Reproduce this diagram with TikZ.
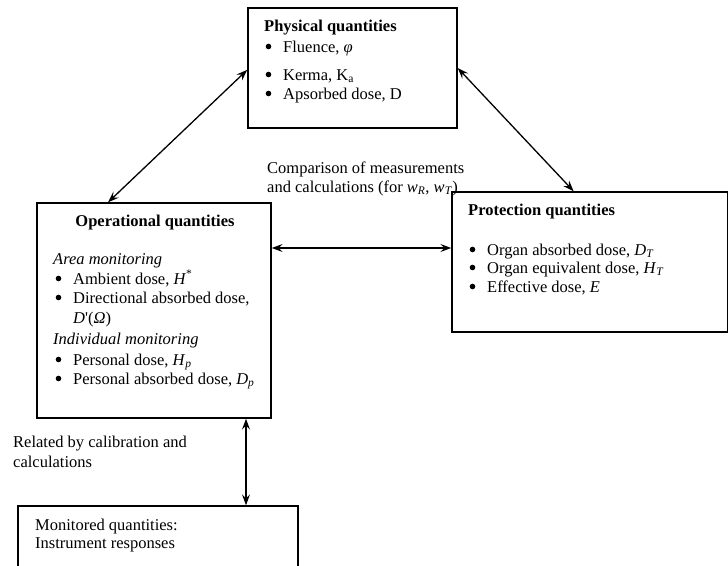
\documentclass[tikz,border=0pt]{standalone}
\usepackage{fontspec}
\setmainfont{Liberation Serif}
\usetikzlibrary{arrows.meta}
\begin{document}
\begin{tikzpicture}[x=1pt,y=-1pt,
  box/.style={draw,line width=1.4pt,rectangle,inner sep=0pt},
  txt/.style={anchor=base west,inner sep=0pt,font=\fontsize{16.5}{19}\selectfont},
  dot/.style={circle,fill,inner sep=0pt,minimum size=5.6pt},
  biarrow/.style={line width=1.3pt,{Stealth[length=11pt,width=8pt,inset=4pt]}-{Stealth[length=11pt,width=8pt,inset=4pt]}},
]
\useasboundingbox (0,0) rectangle (728,565);
\clip (0,0) rectangle (728,565);
% boxes
\node[box,minimum width=209pt,minimum height=120pt] (phys) at (352.5,68) {};
\node[box,minimum width=234pt,minimum height=215pt] (ops) at (154,310.5) {};
\node[box,minimum width=276pt,minimum height=140pt] (prot) at (590,262) {};
\node[box,minimum width=280pt,minimum height=80pt] (mon) at (158,546) {};
% physical
\node[txt,font=\fontsize{16.5}{19}\selectfont\bfseries] (pt) at (264,31) {Physical quantities};
\node[dot] (pb1) at (268.5,46.5) {};
\node[dot] (pb2) at (268.5,74.5) {};
\node[dot] (pb3) at (268.5,93.5) {};
\node[txt] (p1) at (283,52) {Fluence, \textit{φ}};
\node[txt] (p2) at (283,80) {Kerma, K\textsubscript{a}};
\node[txt] (p3) at (283,99) {Apsorbed dose, D};
% comparison
\node[txt] (c1) at (267,173) {Comparison of measurements};
\node[txt] (c2) at (267,192) {and calculations (for \textit{w}\textsubscript{\textit{R}}, \textit{w}\textsubscript{\textit{T}})};
% operational
\node[txt,anchor=base,font=\fontsize{16.5}{19}\selectfont\bfseries] (ot) at (155,226) {Operational quantities};
\node[txt] (o0) at (53,264) {\textit{Area monitoring}};
\node[dot] (ob1) at (58.5,278.5) {};
\node[dot] (ob2) at (58.5,297.5) {};
\node[dot] (ob5) at (58.5,359.5) {};
\node[dot] (ob6) at (58.5,378.5) {};
\node[txt] (o1) at (73,284) {Ambient dose, \textit{H}\textsuperscript{*}};
\node[txt] (o2) at (73,303) {Directional absorbed dose,};
\node[txt] (o3) at (73,323) {\textit{D}\textquotesingle(\textit{Ω})};
\node[txt] (o4) at (53,344) {\textit{Individual monitoring}};
\node[txt] (o5) at (73,365) {Personal dose, \textit{H}\textsubscript{\textit{p}}};
\node[txt] (o6) at (73,384) {Personal absorbed dose, \textit{D}\textsubscript{\textit{p}}};
% protection
\node[txt,font=\fontsize{16.5}{19}\selectfont\bfseries] (prt) at (468,215) {Protection quantities};
\node[dot] (rb1) at (472.5,249.5) {};
\node[dot] (rb2) at (472.5,267.5) {};
\node[dot] (rb3) at (472.5,286.5) {};
\node[txt] (r1) at (487,255) {Organ absorbed dose, \textit{D}\textsubscript{\textit{T}}};
\node[txt] (r2) at (487,273) {Organ equivalent dose, \textit{H}\textsubscript{\textit{T}}};
\node[txt] (r3) at (487,292) {Effective dose, \textit{E}};
% related
\node[txt] (l1) at (13,447) {Related by calibration and};
\node[txt] (l2) at (13,467) {calculations};
% monitored
\node[txt] (m1) at (35,530) {Monitored quantities:};
\node[txt] (m2) at (35,548) {Instrument responses};
% connectors
\coordinate (hy) at (0,248);
\coordinate (vx) at (246,0);
\draw[biarrow] (phys.181) -- (ops.113);
\draw[biarrow] (phys.east) -- (prot.103);
\draw[biarrow] (ops.east |- hy) -- (prot.west |- hy);
\draw[biarrow] (ops.south -| vx) -- (mon.north -| vx);
\end{tikzpicture}
\end{document}
